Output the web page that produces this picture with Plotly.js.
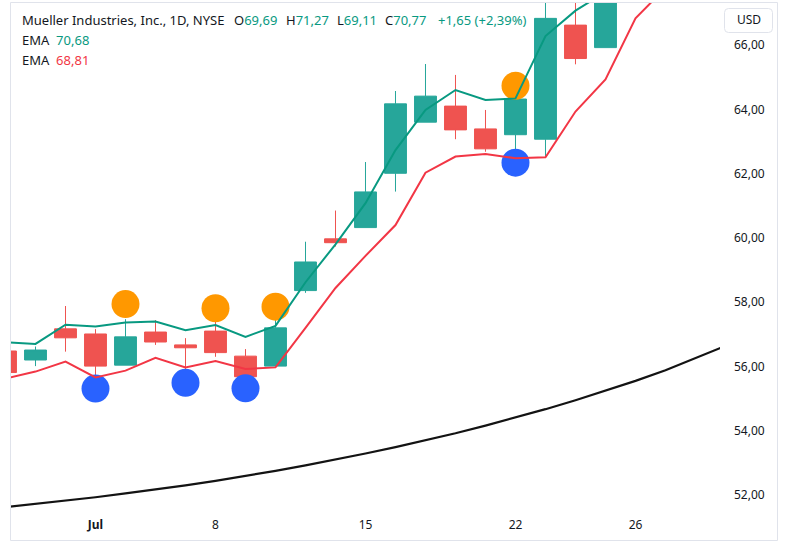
<!DOCTYPE html>
<html>
<head>
<meta charset="utf-8">
<script src="https://cdn.plot.ly/plotly-3.0.1.min.js"></script>
<style>
  html, body { margin: 0; padding: 0; background: #ffffff; }
  #chart { width: 789px; height: 547px; }
</style>
</head>
<body>
<div id="chart"></div>
<script>
// ---- data ----
const dates = [
  '2024-06-26','2024-06-27','2024-06-28','2024-07-01','2024-07-02','2024-07-03','2024-07-05',
  '2024-07-08','2024-07-09','2024-07-10','2024-07-11','2024-07-12','2024-07-15','2024-07-16',
  '2024-07-17','2024-07-18','2024-07-19','2024-07-22','2024-07-23','2024-07-24','2024-07-25',
  '2024-07-26','2024-07-29','2024-07-30','2024-07-31'
];
const candleDates = dates.slice(0, 21);
const open  = [56.48, 56.20, 57.17, 57.01, 56.04, 57.07, 56.67, 57.10, 56.32, 56.01, 58.36, 59.97, 60.32, 62.01, 63.60, 64.10, 63.39, 63.21, 63.07, 66.62, 65.92];
const high  = [56.55, 56.62, 57.88, 57.16, 57.47, 57.44, 56.88, 57.39, 56.54, 57.55, 59.88, 60.85, 62.36, 64.57, 65.41, 65.07, 63.98, 64.32, 67.60, 67.70, 69.40];
const low   = [55.78, 56.01, 56.46, 55.14, 56.04, 56.67, 55.68, 56.30, 55.65, 56.01, 58.29, 59.73, 60.32, 61.44, 63.60, 63.07, 62.68, 62.37, 62.53, 65.40, 65.92];
const close = [55.81, 56.51, 56.89, 56.01, 56.92, 56.76, 56.58, 56.43, 55.68, 57.20, 59.25, 59.85, 61.43, 64.17, 64.41, 63.36, 62.77, 64.32, 66.83, 65.58, 69.10];

const emaFast = [56.75, 56.70, 57.30, 57.24, 57.37, 57.40, 57.13, 57.29, 56.92, 57.26, 58.62, 59.80, 61.08, 62.73, 63.98, 64.60, 64.29, 64.34, 66.28, 67.07, 67.65, 68.50, 69.30, 70.00, 70.68];
const emaSlow = [55.62, 55.84, 56.15, 55.66, 55.87, 56.27, 55.97, 56.17, 55.92, 55.97, 57.20, 58.44, 59.44, 60.40, 62.03, 62.53, 62.61, 62.48, 62.51, 63.93, 64.93, 66.83, 67.78, 68.30, 68.81];
const maLong  = [51.62, 51.72, 51.82, 51.93, 52.05, 52.17, 52.30, 52.44, 52.59, 52.75, 52.92, 53.10, 53.29, 53.49, 53.70, 53.92, 54.16, 54.41, 54.67, 54.95, 55.24, 55.55, 55.88, 56.25, 56.64];

const orangeDates = ['2024-07-02', '2024-07-08', '2024-07-10', '2024-07-22'];
const orangeVals  = [57.94, 57.81, 57.86, 64.73];
const blueDates   = ['2024-07-01', '2024-07-05', '2024-07-09', '2024-07-22'];
const blueVals    = [55.31, 55.49, 55.32, 62.34];

const tickDates = ['2024-07-01', '2024-07-08', '2024-07-15', '2024-07-22', '2024-07-26'];
const tickText  = ['<b>Jul</b>', '8', '15', '22', '26'];

const titleText = 'Mueller Industries, Inc., 1D, NYSE';
const ohlcLabels = ['O', 'H', 'L', 'C'];
const ohlcValues = ['69,69', '71,27', '69,11', '70,77'];
const changeText = '+1,65 (+2,39%)';
const emaLabels = ['EMA', 'EMA'];
const emaValues = ['70,68', '68,81'];
const currency = 'USD';

// ---- styling ----
const GREEN = '#26a69a', RED = '#ef5350';
const EMA_GREEN = '#089981', EMA_RED = '#f23645';
const TEXT = '#131722', BORDER = '#e0e3eb';
const FONT = 'Noto Sans, DejaVu Sans, sans-serif';

const W = 789, H = 547;
const L = 10, R = 720, T = 3, B = 510;
const px = x => (x - L) / (R - L);
const py = y => (B - y) / (B - T);

const traces = [
  { type: 'scatter', mode: 'markers', x: orangeDates, y: orangeVals,
    marker: { size: 28, color: '#ff9800' }, hoverinfo: 'skip', showlegend: false },
  { type: 'scatter', mode: 'markers', x: blueDates, y: blueVals,
    marker: { size: 28, color: '#2962ff' }, hoverinfo: 'skip', showlegend: false },
  { type: 'candlestick', x: candleDates, open: open, high: high, low: low, close: close,
    increasing: { line: { color: GREEN, width: 1 }, fillcolor: GREEN },
    decreasing: { line: { color: RED, width: 1 }, fillcolor: RED },
    hoverinfo: 'skip', showlegend: false },
  { type: 'scatter', mode: 'lines', x: dates, y: maLong,
    line: { color: '#131313', width: 2.2 }, hoverinfo: 'skip', showlegend: false },
  { type: 'scatter', mode: 'lines', x: dates, y: emaSlow,
    line: { color: EMA_RED, width: 2 }, hoverinfo: 'skip', showlegend: false },
  { type: 'scatter', mode: 'lines', x: dates, y: emaFast,
    line: { color: EMA_GREEN, width: 2 }, hoverinfo: 'skip', showlegend: false }
];

const ann = [];
function addText(text, x, y, size, color) {
  ann.push({ text: text, xref: 'paper', yref: 'paper', x: px(x), y: py(y),
    xanchor: 'left', yanchor: 'middle', showarrow: false,
    font: { family: FONT, size: size, color: color } });
}
addText(titleText, 20, 20, 13, TEXT);
const ohlcX = [232, 284, 335, 383];
ohlcLabels.forEach((lab, i) => {
  addText(lab + '<span style="color:' + EMA_GREEN + '">' + ohlcValues[i] + '</span>', ohlcX[i], 20, 13, TEXT);
});
addText(changeText, 436, 20, 13, EMA_GREEN);
addText(emaLabels[0] + '  <span style="color:' + EMA_GREEN + '">' + emaValues[0] + '</span>', 20, 40, 13, TEXT);
addText(emaLabels[1] + '  <span style="color:' + EMA_RED + '">' + emaValues[1] + '</span>', 20, 60, 13, TEXT);
ann.push({ text: currency, xref: 'paper', yref: 'paper', x: px(748.5), y: py(20),
  xanchor: 'center', yanchor: 'middle', showarrow: false,
  font: { family: FONT, size: 12, color: TEXT } });

// rounded box path for the currency label
function roundRect(x0, y0, x1, y1, r) {
  const X = v => px(v), Y = v => py(v);
  return 'M' + X(x0 + r) + ',' + Y(y0) +
    ' L' + X(x1 - r) + ',' + Y(y0) + ' Q' + X(x1) + ',' + Y(y0) + ' ' + X(x1) + ',' + Y(y0 + r) +
    ' L' + X(x1) + ',' + Y(y1 - r) + ' Q' + X(x1) + ',' + Y(y1) + ' ' + X(x1 - r) + ',' + Y(y1) +
    ' L' + X(x0 + r) + ',' + Y(y1) + ' Q' + X(x0) + ',' + Y(y1) + ' ' + X(x0) + ',' + Y(y1 - r) +
    ' L' + X(x0) + ',' + Y(y0 + r) + ' Q' + X(x0) + ',' + Y(y0) + ' ' + X(x0 + r) + ',' + Y(y0) + ' Z';
}

const shapes = [
  { type: 'rect', xref: 'paper', yref: 'paper', x0: px(10.5), x1: px(777.5), y0: py(540.5), y1: py(2.5),
    line: { color: BORDER, width: 1 }, fillcolor: 'rgba(0,0,0,0)', layer: 'above' },
  { type: 'path', xref: 'paper', yref: 'paper', path: roundRect(724.5, 8.5, 772.5, 32.5, 4),
    line: { color: BORDER, width: 1 }, fillcolor: '#ffffff', layer: 'above' }
];

const layout = {
  width: W, height: H,
  margin: { l: L, r: W - R, t: T, b: H - B, pad: 0 },
  paper_bgcolor: '#ffffff', plot_bgcolor: '#ffffff',
  separators: ', ',
  showlegend: false,
  boxgap: 0.27,
  boxgroupgap: 0,
  font: { family: FONT, size: 12, color: TEXT },
  xaxis: {
    type: 'category', categoryorder: 'array', categoryarray: dates,
    range: [0.15, 23.817], rangeslider: { visible: false },
    showgrid: false, zeroline: false, showline: false, ticks: '',
    tickvals: tickDates, ticktext: tickText, ticklabelstandoff: 6,
    tickfont: { family: FONT, size: 12, color: TEXT }, fixedrange: true
  },
  yaxis: {
    side: 'right', range: [51.533, 67.308], tick0: 52, dtick: 2, tickformat: '.2f',
    showgrid: false, zeroline: false, showline: false, ticks: '', ticklabelstandoff: 13,
    tickfont: { family: FONT, size: 12, color: TEXT }, fixedrange: true
  },
  annotations: ann,
  shapes: shapes
};

Plotly.newPlot('chart', traces, layout, { displayModeBar: false, staticPlot: true });
</script>
</body>
</html>
